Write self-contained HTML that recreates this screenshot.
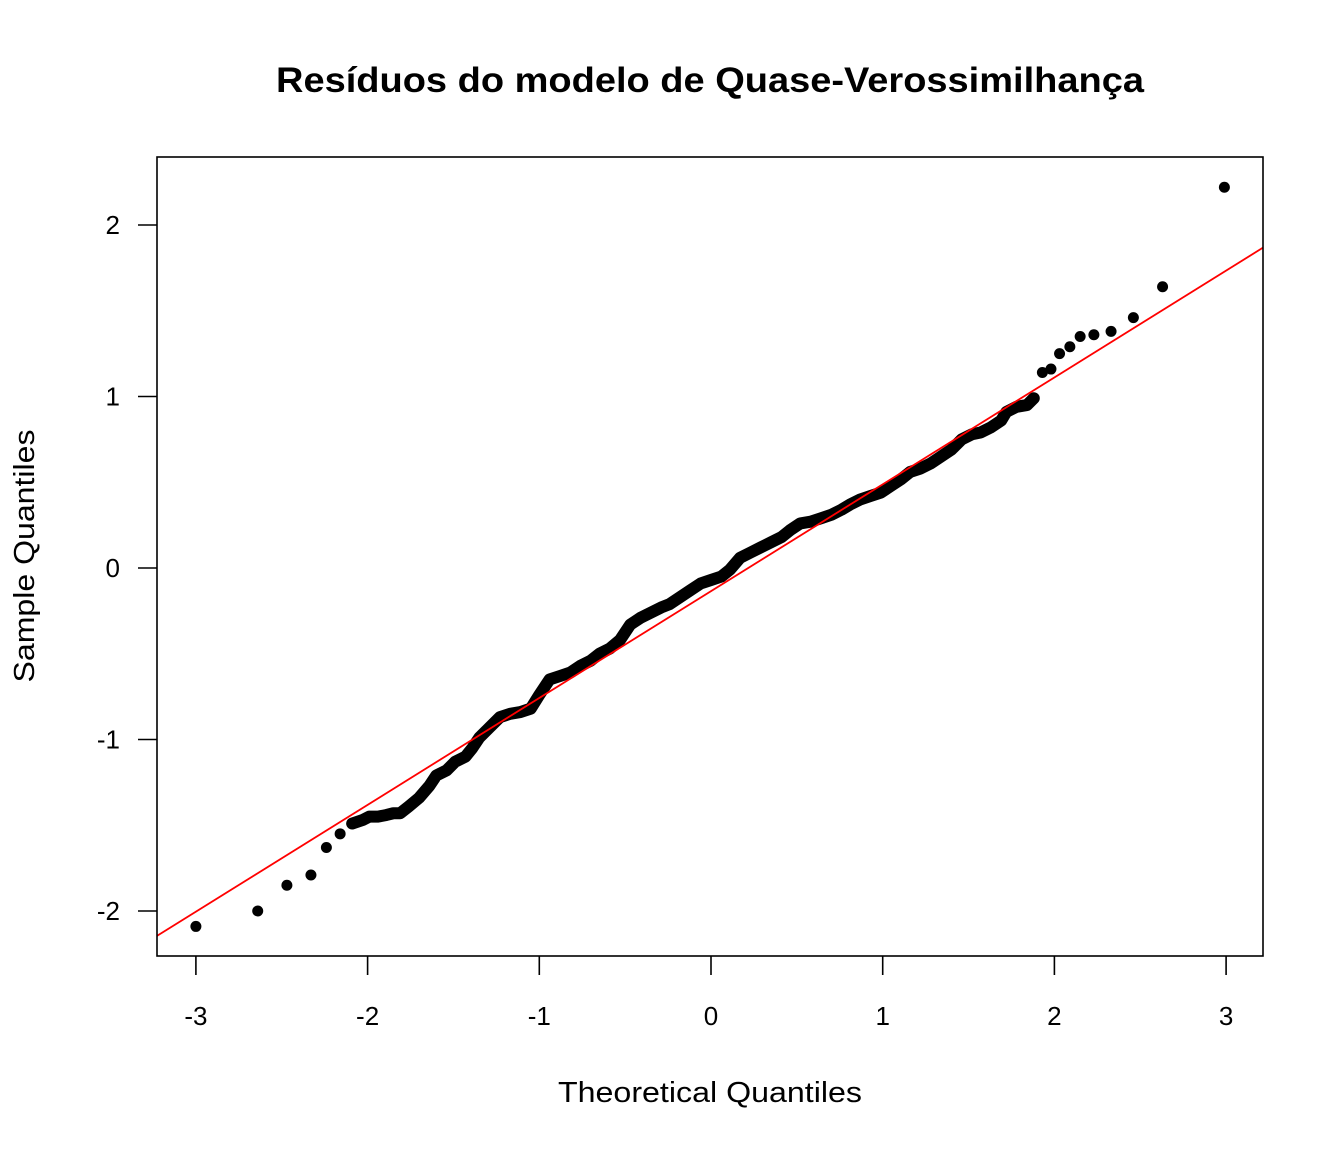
<!DOCTYPE html>
<html><head><meta charset="utf-8"><style>
body{margin:0;background:#fff;}
svg text{font-family:"Liberation Sans",Arial,sans-serif;}
</style></head><body>
<svg id="chart" width="1344" height="1152" xmlns="http://www.w3.org/2000/svg">
<rect width="1344" height="1152" fill="#fff"/>
<text x="710" y="92" text-anchor="middle" font-size="35" font-weight="bold" textLength="868" lengthAdjust="spacingAndGlyphs">Resíduos do modelo de Quase-Verossimilhança</text>
<text x="710" y="1102" text-anchor="middle" font-size="29" textLength="304" lengthAdjust="spacingAndGlyphs">Theoretical Quantiles</text>
<text transform="translate(34,556) rotate(-90)" text-anchor="middle" font-size="29" textLength="253" lengthAdjust="spacingAndGlyphs">Sample Quantiles</text>
<g id="marks"></g>
<rect x="157" y="157" width="1106" height="799" fill="none" stroke="#000" stroke-width="1.6"/>
</svg>
<script>
const theoretical=[-3.00,-2.64,-2.47,-2.33,-2.24,-2.16,-2.09,-2.03,-1.99,-1.94,-1.89,-1.85,-1.81,-1.76,-1.70,-1.64,-1.60,-1.54,-1.49,-1.43,-1.39,-1.35,-1.29,-1.23,-1.17,-1.11,-1.05,-1.00,-0.94,-0.88,-0.82,-0.76,-0.70,-0.65,-0.59,-0.53,-0.47,-0.41,-0.35,-0.29,-0.24,-0.18,-0.12,-0.06,0.00,0.06,0.11,0.17,0.23,0.29,0.35,0.41,0.46,0.52,0.58,0.64,0.70,0.76,0.81,0.87,0.93,0.99,1.05,1.11,1.16,1.22,1.28,1.34,1.40,1.46,1.52,1.57,1.63,1.69,1.72,1.78,1.84,1.88,1.93,1.98,2.03,2.09,2.15,2.23,2.33,2.46,2.63,2.99];
const sample=[-2.09,-2.00,-1.85,-1.79,-1.63,-1.55,-1.49,-1.47,-1.45,-1.45,-1.44,-1.43,-1.43,-1.39,-1.34,-1.27,-1.21,-1.18,-1.13,-1.10,-1.05,-0.99,-0.93,-0.87,-0.85,-0.84,-0.82,-0.74,-0.65,-0.63,-0.61,-0.57,-0.54,-0.50,-0.47,-0.42,-0.33,-0.29,-0.26,-0.23,-0.21,-0.17,-0.13,-0.09,-0.07,-0.05,-0.01,0.06,0.09,0.12,0.15,0.18,0.22,0.26,0.27,0.29,0.31,0.34,0.37,0.40,0.42,0.44,0.48,0.52,0.56,0.58,0.61,0.65,0.69,0.75,0.78,0.79,0.82,0.86,0.91,0.94,0.95,0.99,1.14,1.16,1.25,1.29,1.35,1.36,1.38,1.46,1.64,2.22];
const xTicks=[-3,-2,-1,0,1,2,3];
const yTicks=[-2,-1,0,1,2];
const lineIntercept=-0.135, lineSlope=0.623;
const X=v=>711+v*171.7, Y=v=>568-v*171.5;
const NS='http://www.w3.org/2000/svg', svg=document.getElementById('chart'), g=document.getElementById('marks');
function mk(t,a){const e=document.createElementNS(NS,t);for(const k in a)e.setAttribute(k,a[k]);return e;}
xTicks.forEach(t=>{
  const l=mk('line',{x1:X(t),x2:X(t),y1:956,y2:975,stroke:'#000','stroke-width':1.6});
  
  
  svg.appendChild(l);
  const tx=mk('text',{x:X(t),y:1025,'text-anchor':'middle','font-size':26});
  
  
  tx.textContent=t;svg.appendChild(tx);
});
yTicks.forEach(t=>{
  const l=mk('line',{x1:138,x2:157,y1:Y(t),y2:Y(t),stroke:'#000','stroke-width':1.6});
  
  
  svg.appendChild(l);
  const tx=mk('text',{x:120,y:Y(t)+9,'text-anchor':'end','font-size':26});
  
  
  tx.textContent=t;svg.appendChild(tx);
});
let pts=[];
for(let i=0;i<theoretical.length;i++){if(theoretical[i]>=-2.1&&theoretical[i]<=1.89)pts.push(X(theoretical[i])+','+Y(sample[i]));}
const band=mk('polyline',{points:pts.join(' '),fill:'none',stroke:'#000','stroke-width':12,'stroke-linejoin':'round','stroke-linecap':'round'});


g.appendChild(band);
for(let i=0;i<theoretical.length;i++){
  const c=mk('circle',{cx:X(theoretical[i]),cy:Y(sample[i]),r:5.5,fill:'#000'});
  
  
  g.appendChild(c);
}
const x0=(157-711)/171.7, x1=(1263-711)/171.7;
const ln=mk('line',{x1:157,y1:Y(lineIntercept+lineSlope*x0),x2:1263,y2:Y(lineIntercept+lineSlope*x1),stroke:'#ff0000','stroke-width':1.8});


g.appendChild(ln);
</script>
</body></html>
